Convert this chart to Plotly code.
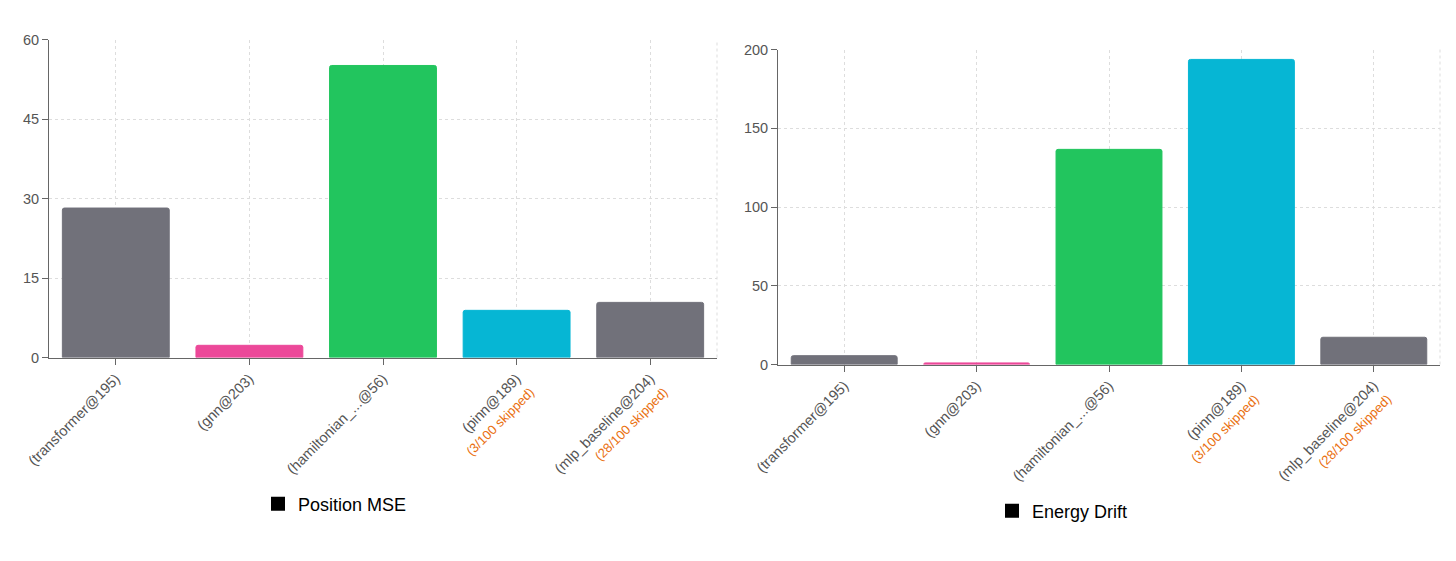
import plotly.graph_objects as go
from plotly.subplots import make_subplots

models = ["transformer@195", "gnn@203", "hamiltonian_...@56", "pinn@189", "mlp_baseline@204"]
skipped = ["", "", "", "3/100 skipped", "28/100 skipped"]
bar_colors = ["#71717a", "#ec4899", "#22c55e", "#06b6d4", "#71717a"]
position_mse = [28.2, 2.3, 55.1, 8.9, 10.4]
energy_drift = [5.6, 1.0, 136.6, 193.7, 17.3]

mse_ticks = [0, 15, 30, 45, 60]
drift_ticks = [0, 50, 100, 150, 200]

# page body has an 8px margin, so the figure is a bit smaller than the window
OFF = 8
W, H = 1456 - 2 * OFF, 561 - 2 * OFF
AXIS = "#666666"
GRID = "#dddddd"
SKIP = "#ea7010"
FONT = "Liberation Sans, Arial, sans-serif"


def px_x(x):
    return (x - OFF) / W


def px_y(y):
    return 1 - (y - OFF) / H


def tick_label(name, skip):
    txt = "(" + name + ")"
    if skip:
        txt += "<br><span style='color:%s;font-size:13px'>(%s)</span>" % (SKIP, skip)
    return txt


ticktext = [tick_label(m, s) for m, s in zip(models, skipped)]

fig = make_subplots(rows=1, cols=2)

fig.add_trace(go.Bar(
    x=models, y=position_mse,
    marker=dict(color=bar_colors, cornerradius=2, line=dict(color=bar_colors, width=1)),
    showlegend=False, hoverinfo="x+y"), row=1, col=1)
fig.add_trace(go.Bar(
    x=models, y=energy_drift,
    marker=dict(color=bar_colors, cornerradius=2, line=dict(color=bar_colors, width=1)),
    showlegend=False, hoverinfo="x+y"), row=1, col=2)

# legend entries (black swatch like the original)
fig.add_trace(go.Bar(x=[None], y=[None], name="Position MSE",
                     marker=dict(color="#000000", line=dict(color="#000000", width=2)),
                     legend="legend"), row=1, col=1)
fig.add_trace(go.Bar(x=[None], y=[None], name="Energy Drift",
                     marker=dict(color="#000000", line=dict(color="#000000", width=2)),
                     legend="legend2"), row=1, col=2)

common_x = dict(
    type="category", tickmode="array", tickvals=models, ticktext=ticktext,
    tickangle=-45, showline=True, linecolor=AXIS, linewidth=1,
    ticks="outside", ticklen=6, tickcolor=AXIS,
    showgrid=True, gridcolor=GRID, griddash="3px,3px", gridwidth=1,
    tickfont=dict(size=14.5, color="#555555", family=FONT),
    automargin=False, zeroline=False,
)
common_y = dict(
    showline=True, linecolor=AXIS, linewidth=1,
    ticks="outside", ticklen=6, tickcolor=AXIS,
    showgrid=True, gridcolor=GRID, griddash="3px,3px", gridwidth=1,
    tickfont=dict(size=14.5, color="#555555", family=FONT),
    automargin=False, zeroline=False,
)

fig.update_xaxes(**common_x)
fig.update_yaxes(**common_y)

fig.update_layout(
    xaxis=dict(domain=[px_x(49), px_x(717)]),
    xaxis2=dict(domain=[px_x(778), px_x(1440)]),
    yaxis=dict(domain=[px_y(357.5), px_y(39.5)], range=[0, 60], tickvals=mse_ticks),
    yaxis2=dict(domain=[px_y(364.5), px_y(49.5)], range=[0, 200], tickvals=drift_ticks),
)

fig.update_layout(
    width=W, height=H,
    margin=dict(l=0, r=0, t=0, b=0),
    paper_bgcolor="white", plot_bgcolor="white",
    bargap=0.2,
    font=dict(family=FONT, color="#000000"),
    legend=dict(x=px_x(258), xanchor="left", y=px_y(504), yanchor="middle",
                font=dict(size=18, color="#000000"), bgcolor="rgba(0,0,0,0)"),
    legend2=dict(x=px_x(992), xanchor="left", y=px_y(511), yanchor="middle",
                 font=dict(size=18, color="#000000"), bgcolor="rgba(0,0,0,0)"),
    shapes=[
        dict(type="line", xref="x domain", yref="y domain", x0=1, x1=1, y0=0, y1=1,
             line=dict(color=GRID, width=1, dash="3px,3px"), layer="below"),
        dict(type="line", xref="x2 domain", yref="y2 domain", x0=1, x1=1, y0=0, y1=1,
             line=dict(color=GRID, width=1, dash="3px,3px"), layer="below"),
    ],
)

fig.write_html("out.html")
